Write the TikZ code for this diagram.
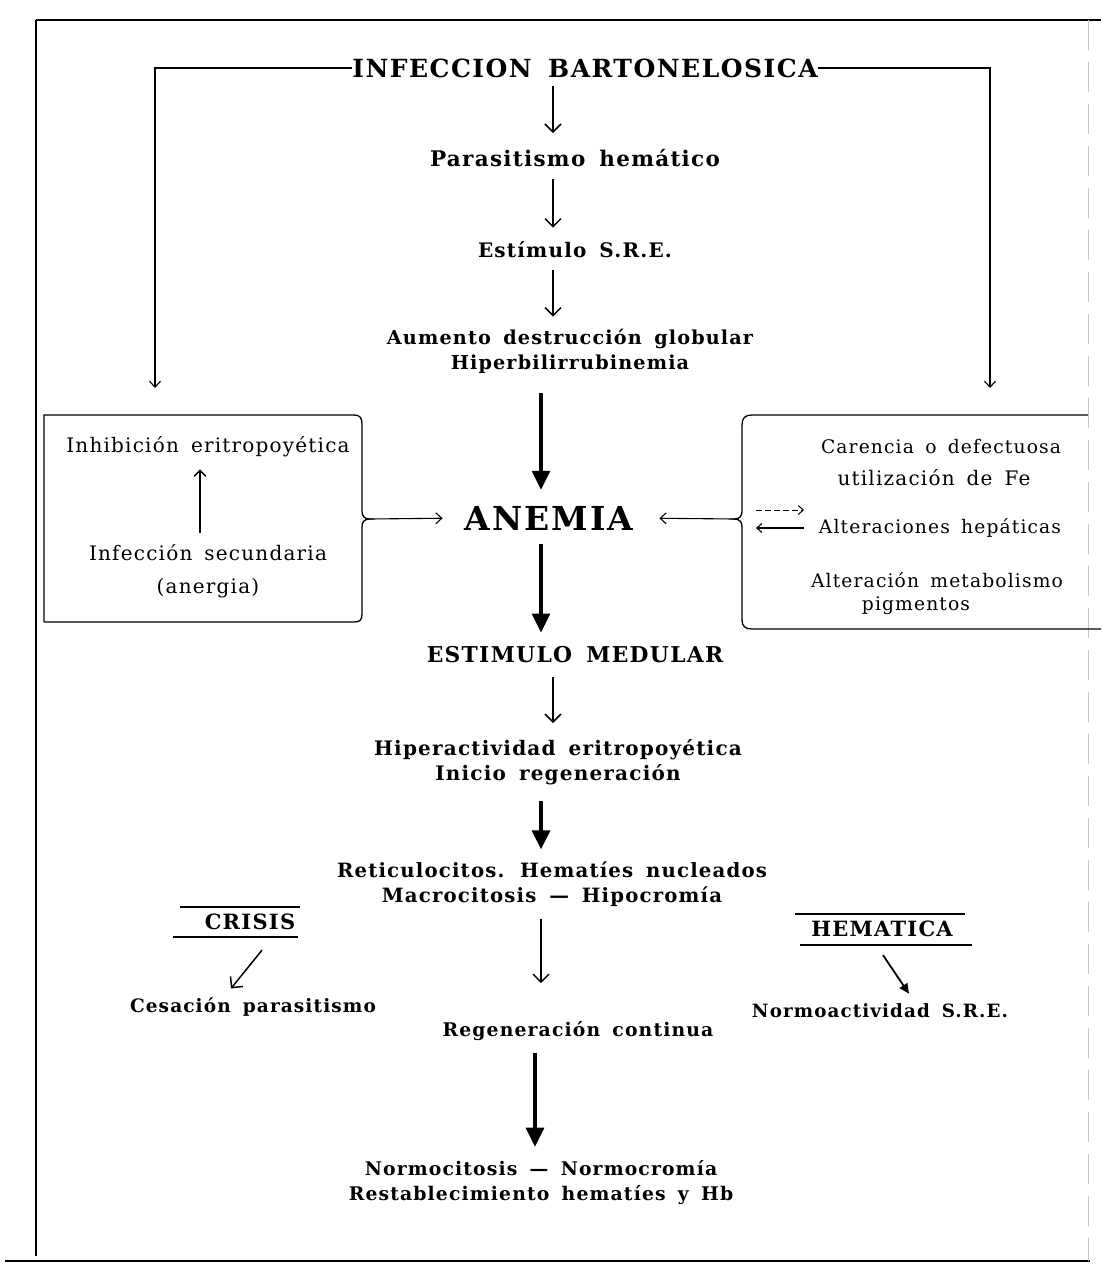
\documentclass[tikz,border=0pt]{standalone}
\usepackage{fontspec}
\usetikzlibrary{arrows.meta,calc}
\newfontfamily\hd{DejaVu Serif}[LetterSpace=6,WordSpace=1.8]
\newfontfamily\rg{DejaVu Serif}[LetterSpace=6,WordSpace=1.6]
\begin{document}
\begin{tikzpicture}[x=1pt,y=-1pt,
  lbl/.style={font=\hd\bfseries\fontsize{#1}{25}\selectfont, align=center, inner sep=0pt},
  lbl/.default=20,
  capsty/.style={font=\hd\bfseries\fontsize{#1}{25}\selectfont, align=center, inner sep=0pt},
  capsty/.default=21,
  titlesty/.style={font=\hd\bfseries\fontsize{25}{30}\selectfont, inner sep=0pt},
  big/.style={font=\hd\bfseries\fontsize{33}{40}\selectfont, inner sep=0pt},
  reg/.style={font=\rg\fontsize{#1}{31}\selectfont, align=center, inner sep=0pt},
  reg/.default=20,
  frame/.style={line width=1.6pt},
  boxline/.style={line width=1.3pt},
  openv/.style={line width=1.5pt,-{Straight Barb[length=8pt,width=16pt]}},
  sidev/.style={line width=1.1pt,-{Straight Barb[length=6pt,width=11pt]}},
  fat/.style={line width=3.2pt,-{Triangle[length=19pt,width=18pt]}},
]
\useasboundingbox (0,0) rectangle (1101,1271);
\fill[white] (0,0) rectangle (1101,1271);

% page frame
\draw[frame] (36,20) -- (1101,20);
\draw[frame] (36,20) -- (36,1256);
\draw[frame] (5,1261) -- (1090,1261);
\draw[line width=0.8pt, gray!45, dash pattern=on 30pt off 12pt] (1088,20) -- (1088,1261);

% main column
\node[titlesty] (inf) at (585,68) {INFECCION BARTONELOSICA};
\node[lbl=21.5] (par) at (575,158) {Parasitismo hemático};
\node[lbl] (sre) at (575,250) {Estímulo S.R.E.};
\node[lbl=19.2] (aum) at (570,351) {Aumento destrucción globular\\Hiperbilirrubinemia};
\node[big] (ane) at (549,518) {ANEMIA};
\node[capsty=21.8] (med) at (575,655) {ESTIMULO MEDULAR};
\node[lbl] (hip) at (558,762) {Hiperactividad eritropoyética\\Inicio regeneración};
\node[lbl=19.7] (ret) at (552,884) {Reticulocitos. Hematíes nucleados\\Macrocitosis — Hipocromía};
\node[lbl=18.8] (reg) at (578,1031) {Regeneración continua};
\node[lbl=18.8] (nor) at (541,1183) {Normocitosis — Normocromía\\Restablecimiento hematíes y Hb};

% side branches
\node[capsty] (cri) at (250,922) {CRISIS};
\node[lbl=18.5] (ces) at (253,1007) {Cesación parasitismo};
\node[capsty] (hem) at (882,929) {HEMATICA};
\node[lbl=18.3] (nsr) at (880,1011) {Normoactividad S.R.E.};

% left box
\node[reg] (inh) at (208,447) {Inhibición eritropoyética};
\node[reg] (sec) at (208,553) {Infección secundaria};
\node[reg] (ang) at (208,588) {(anergia)};

% right box
\node[reg=18.7] (fe) at (941,447) {Carencia o defectuosa};
\node[reg=20] (fu) at (934,478) {utilización de Fe};
\node[reg=18.7] (hep) at (940,528) {Alteraciones hepáticas};
\node[reg=18.7] (met) at (937,580) {Alteración metabolismo};
\node[reg=18.7] (pig) at (916,606) {pigmentos};

% side lines from the infection
\coordinate (la) at (155,388);
\coordinate (ra) at (990,388);
\draw[sidev] (inf.west) -| (la);
\draw[sidev] (inf.east) -| (ra);

% left box with brace on its right side
\coordinate (lb) at (370,519);
\draw[boxline] (44,622) -- (44,415) -- (354,415)
  .. controls (360,415) and (362,418) .. (362,424)
  -- (362,511) .. controls (362,516) and (364,519) .. (lb)
  .. controls (364,519) and (362,522) .. (362,527)
  -- (362,614) .. controls (362,620) and (360,622) .. (354,622) -- (44,622);

% right box with brace on its left side
\coordinate (rb) at (734,519);
\draw[boxline] (1088,415) -- (752,415)
  .. controls (745,415) and (742,418) .. (742,425)
  -- (742,511) .. controls (742,516) and (740,519) .. (rb)
  .. controls (740,519) and (742,522) .. (742,527)
  -- (742,620) .. controls (742,626) and (745,629) .. (752,629) -- (1101,629);

\coordinate (hx) at (756,519);

% connectors
\draw[openv, shorten <=8pt, shorten >=16pt] ([xshift=-32pt]inf.south) -- ([xshift=-32pt]inf.south |- par.north);
\draw[openv, shorten <=12pt, shorten >=14pt] ([xshift=-22pt]par.south) -- ([xshift=-22pt]par.south |- sre.north);
\draw[openv, shorten <=12pt, shorten >=12pt] ([xshift=-22pt]sre.south) -- ([xshift=-22pt]sre.south |- aum.north);
\draw[fat, shorten <=20pt, shorten >=16pt] ([xshift=-29pt]aum.south) -- ([xshift=-29pt]aum.south |- ane.north);
\draw[sidev, shorten >=22pt] (lb) -- (ane.west);
\draw[sidev, shorten >=26pt] (rb) -- (ane.east);
\draw[fat, shorten <=14pt, shorten >=14pt] ([xshift=-8pt]ane.south) -- ([xshift=-8pt]ane.south |- med.north);
\draw[openv, shorten <=14pt, shorten >=16pt] ([xshift=-22pt]med.south) -- ([xshift=-22pt]med.south |- hip.north);
\draw[fat, shorten <=16pt, shorten >=12pt] ([xshift=-17pt]hip.south) -- ([xshift=-17pt]hip.south |- ret.north);
\draw[openv, shorten <=12pt, shorten >=38pt] ([xshift=-11pt]ret.south) -- ([xshift=-11pt]ret.south |- reg.north);
\draw[fat, shorten <=12pt, shorten >=14pt] ([xshift=-43pt]reg.south) -- ([xshift=-43pt]reg.south |- nor.north);
\draw[line width=1.3pt, -{Straight Barb[length=6pt,width=12pt]}, shorten <=12pt, shorten >=12pt] ([xshift=-8pt]sec.north) -- ([xshift=-8pt]sec.north |- inh.south);

% crisis and hematica markers
\draw[boxline] ($(cri.center)+(-70,-15)$) -- ++(120,0);
\draw[boxline] ($(cri.center)+(-77,15)$) -- ++(125,0);
\draw[boxline] ($(hem.center)+(-87,-15)$) -- ++(170,0);
\draw[boxline] ($(hem.center)+(-82,16)$) -- ++(172,0);
\draw[openv] ($(cri.south)+(12,20)$) -- ($(ces.north)+(-22,-9)$);
\draw[line width=1.8pt,-{Triangle[length=10pt,width=9pt]}] ($(hem.south)+(1,18)$) -- ($(nsr.north)+(29,-10)$);

% reciprocal arrows beside the hepatic entry
\draw[line width=1pt, dash pattern=on 6pt off 3pt, -{Straight Barb[length=5pt,width=9pt]}] ([yshift=9pt]hx) -- ++(48,0);
\draw[line width=1.1pt, -{Straight Barb[length=5pt,width=9pt]}] ([yshift=-9pt]hx) ++(48,0) -- ([yshift=-9pt]hx);
\end{tikzpicture}
\end{document}
